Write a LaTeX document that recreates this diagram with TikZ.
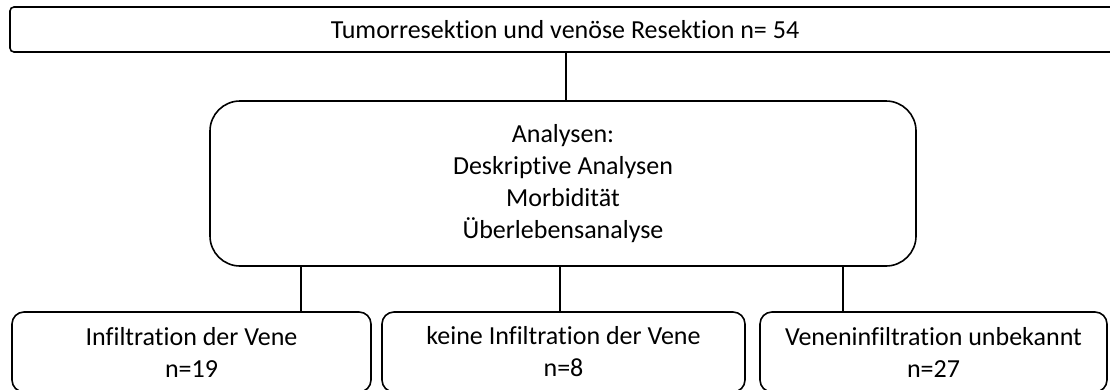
\documentclass[tikz,border=0pt]{standalone}
\usepackage{fontspec}
\setmainfont{Carlito}[Ligatures=NoCommon]
\begin{document}
\begin{tikzpicture}[x=1pt,y=-1pt,
  box/.style={draw=black,line width=1.6pt,fill=white,align=center,inner sep=0pt,
    font=\fontsize{26}{32}\selectfont},
  link/.style={draw=black,line width=1.6pt}]
\useasboundingbox (0,0) rectangle (1110,389);
\clip (0,0) rectangle (1110,389);
\node[box,rounded corners=4pt,minimum width=1110pt,minimum height=45pt] (top) at (565,29.5) {Tumorresektion und venöse Resektion n= 54};
\node[box,rounded corners=30pt,minimum width=706pt,minimum height=165pt] (mid) at (563,183.5) {Analysen:\\Deskriptive Analysen\\Morbidität\\Überlebensanalyse};
\node[box,rounded corners=12pt,minimum width=359pt,minimum height=80pt] (b1) at (191.5,352) {Infiltration der Vene\\n=19};
\node[box,rounded corners=12pt,minimum width=363pt,minimum height=80pt] (b2) at (563.5,352) {keine Infiltration der Vene\\n=8};
\node[box,rounded corners=12pt,minimum width=347pt,minimum height=80pt] (b3) at (933.5,352) {Veneninfiltration unbekannt\\n=27};
\coordinate (x0) at (566,0);
\coordinate (x1) at (301,0);
\coordinate (x2) at (560,0);
\coordinate (x3) at (843,0);
\draw[link] (x0 |- top.south) -- (x0 |- mid.north);
\draw[link] (x1 |- mid.south) -- (x1 |- b1.north);
\draw[link] (x2 |- mid.south) -- (x2 |- b2.north);
\draw[link] (x3 |- mid.south) -- (x3 |- b3.north);
\end{tikzpicture}
\end{document}
